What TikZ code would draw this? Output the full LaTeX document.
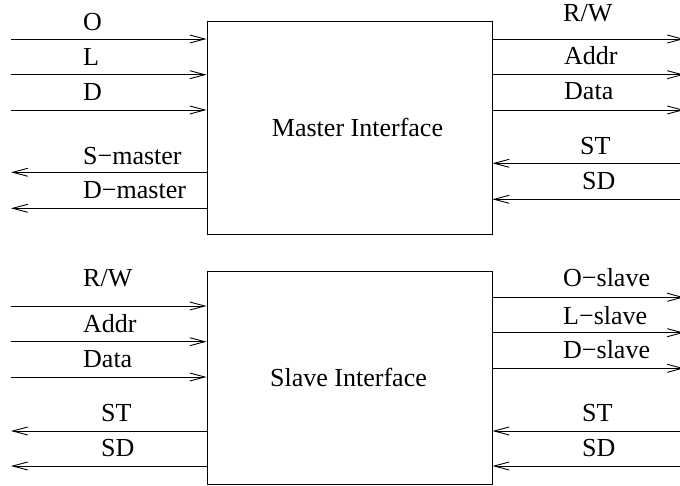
\documentclass[tikz,border=0pt]{standalone}
\usepackage{fontspec}
\setmainfont{Liberation Serif}
\usetikzlibrary{arrows.meta}
\begin{document}
\begin{tikzpicture}[x=1pt,y=-1pt,
  lbl/.style={anchor=base west,inner sep=0pt,font=\fontsize{26}{30}\selectfont},
  ctr/.style={anchor=base,inner sep=0pt,font=\fontsize{26}{30}\selectfont},
  blk/.style={draw,line width=0.9pt,inner sep=0pt},
  sig/.style={line width=0.9pt,-{Straight Barb[length=15pt,width=8pt,line width=0.9pt]}}]
\useasboundingbox (0,0) rectangle (680,486);
% boxes
\node[blk,minimum width=285pt,minimum height=213pt] (master) at (349.5,127.5) {};
\node[blk,minimum width=285pt,minimum height=213pt] (slave) at (349.5,377.5) {};
\node[ctr] (mt) at (357.5,136.7) {Master Interface};
\node[ctr] (st) at (348.5,386.7) {Slave Interface};
% free ends
\foreach \n/\x/\y in {mli1/11/39, mli2/11/74.7, mli3/11/110, mlo1/11/172.3, mlo2/11/208.3,
  mro1/684/39, mro2/684/74.7, mro3/684/110, mri1/680/163.3, mri2/680/199.3,
  sli1/11/306, sli2/11/341.7, sli3/11/377, slo1/11/431, slo2/11/466,
  sro1/684/297.3, sro2/684/332.7, sro3/684/368.3, sri1/680/431, sri2/680/466}
  \coordinate (\n) at (\x,\y);
% master connectors
\foreach \n in {mli1,mli2,mli3} \draw[sig] (\n) -- (\n -| master.west);
\foreach \n in {mlo1,mlo2} \draw[sig] (\n -| master.west) -- (\n);
\foreach \n in {mro1,mro2,mro3} \draw[sig] (\n -| master.east) -- (\n);
\foreach \n in {mri1,mri2} \draw[sig] (\n) -- (\n -| master.east);
% slave connectors
\foreach \n in {sli1,sli2,sli3} \draw[sig] (\n) -- (\n -| slave.west);
\foreach \n in {slo1,slo2} \draw[sig] (\n -| slave.west) -- (\n);
\foreach \n in {sro1,sro2,sro3} \draw[sig] (\n -| slave.east) -- (\n);
\foreach \n in {sri1,sri2} \draw[sig] (\n) -- (\n -| slave.east);
% master labels
\node[lbl] (lO) at (83,30.7) {O};
\node[lbl] (lL) at (83,66) {L};
\node[lbl] (lD) at (83,101) {D};
\node[lbl] (lSm) at (83,165) {S−master};
\node[lbl] (lDm) at (83,199) {D−master};
\node[lbl] (lRW) at (563,21.7) {R/W};
\node[lbl] (lAd) at (564,65) {Addr};
\node[lbl] (lDa) at (564,100) {Data};
\node[lbl] (lST) at (580,155) {ST};
\node[lbl] (lSD) at (582,190) {SD};
% slave labels
\node[lbl] (sRW) at (83,286.7) {R/W};
\node[lbl] (sAd) at (83,332) {Addr};
\node[lbl] (sDa) at (83,367.7) {Data};
\node[lbl] (sST) at (101,421.7) {ST};
\node[lbl] (sSD) at (101,456.7) {SD};
\node[lbl] (sOs) at (563,287) {O−slave};
\node[lbl] (sLs) at (563,324) {L−slave};
\node[lbl] (sDs) at (563,359) {D−slave};
\node[lbl] (sST2) at (582,421.7) {ST};
\node[lbl] (sSD2) at (582,456.7) {SD};
\end{tikzpicture}
\end{document}
